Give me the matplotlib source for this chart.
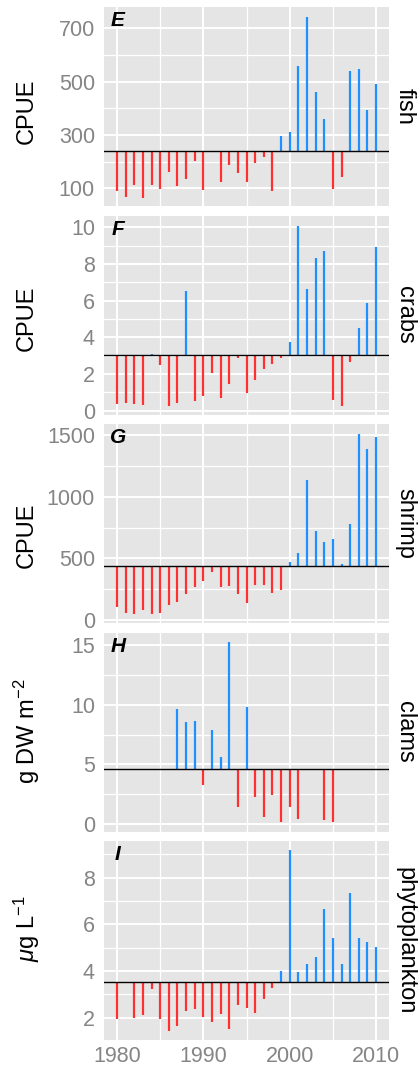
import numpy as np
import matplotlib
matplotlib.use('Agg')
import matplotlib.pyplot as plt

plt.rcParams['font.family'] = ['Liberation Sans', 'DejaVu Sans']
plt.rcParams['mathtext.fontset'] = 'custom'
plt.rcParams['mathtext.rm'] = 'Liberation Sans'
plt.rcParams['mathtext.it'] = 'Liberation Sans:italic'

nan = np.nan
years = list(range(1980, 2011))

# values
fish = [91, 69, 111, 65, 111, 96, 161, 110, 134, 202, 95, 236, 125, 189, 156, 124,
        194, 216, 91, 296, 311, 559, 741, 461, 360, 96, 144, 541, 549, 394, 491]
crabs = [0.36, 0.44, 0.35, 0.29, 3.09, 2.47, 0.27, 0.44, 6.55, 0.55, 0.80, 2.07, 0.67,
         1.44, 2.90, 0.98, 1.69, 2.29, 2.53, 2.85, 3.73, 10.09, 6.62, 8.31, 8.73, 0.58,
         0.27, 2.67, 4.53, 5.85, 8.95]
shrimp = [108, 59, 49, 78, 49, 59, 119, 143, 214, 270, 314, 392, 265, 273, 211, 135,
          286, 286, 219, 246, 470, 541, 1135, 724, 630, 657, 451, 776, 1508, 1384, 1481]
clams = [nan, nan, nan, nan, nan, nan, nan, 9.61, 8.52, 8.64, 3.31, 7.88, 5.60, 15.24,
         1.42, 9.80, 2.28, 0.64, 2.48, 0.22, 1.48, 0.42, nan, nan, 0.36, 0.17, nan, nan,
         nan, nan, nan]
phyto = [1.93, nan, 2.00, 2.10, 3.24, 1.93, 1.44, 1.66, 2.27, 2.37, 2.03, 1.83, 2.16,
         1.53, 2.54, 2.43, 2.21, 2.81, 3.29, 4.00, 9.19, 3.96, 4.29, 4.60, 6.64, 5.43,
         4.31, 7.34, 5.43, 5.23, 5.04]

series = [fish, crabs, shrimp, clams, phyto]
names = ['fish', 'crabs', 'shrimp', 'clams', 'phytoplankton']
letters = ['E', 'F', 'G', 'H', 'I']
baselines = [241, 3.02, 440, 4.6, 3.51]
ylabels = ['CPUE', 'CPUE', 'CPUE', 'g DW m$^{-2}$', r'$\mu$g L$^{-1}$']
ylims = [(34, 780), (-0.21, 10.65), (-24, 1589), (-0.6, 16.03), (1.04, 9.57)]
major_y = [[100, 300, 500, 700], [0, 2, 4, 6, 8, 10], [0, 500, 1000, 1500],
           [0, 5, 10, 15], [2, 4, 6, 8]]
minor_y = [[200, 400, 600], [1, 3, 5, 7, 9], [250, 750, 1250], [2.5, 7.5, 12.5],
           [3, 5, 7, 9]]
major_x = [1980, 1990, 2000, 2010]
minor_x = [1985, 1995, 2005]

W, H = 418, 1069
fig = plt.figure(figsize=(W / 100, H / 100), dpi=100)

left, right = 104, 389
top0, ph, gap = 7, 199, 9.5
label_y = [111.5, 318.5, 535, 731.5, 928.5]
red, blue = '#FF3030', '#1E90FF'
tick_col = '#858585'

for i, vals in enumerate(series):
    top = top0 + i * (ph + gap)
    ax = fig.add_axes([left / W, 1 - (top + ph) / H, (right - left) / W, ph / H])
    ax.set_facecolor('#E5E5E5')
    for s in ax.spines.values():
        s.set_visible(False)
    ax.set_xlim(1978.5, 2011.5)
    ax.set_ylim(*ylims[i])

    ax.set_yticks(major_y[i])
    ax.set_yticks(minor_y[i], minor=True)
    ax.set_xticks(major_x)
    ax.set_xticks(minor_x, minor=True)
    ax.grid(which='major', color='white', lw=1.4)
    ax.grid(which='minor', color='white', lw=0.9)
    ax.set_axisbelow(True)
    ax.tick_params(which='both', length=0, labelsize=15.5, labelcolor=tick_col)
    ax.tick_params(axis='y', pad=6.5)
    ax.tick_params(axis='x', pad=4.5)
    if i < 4:
        ax.tick_params(axis='x', labelbottom=False)

    v = np.array(vals, dtype=float)
    x = np.array(years)
    ok = ~np.isnan(v)
    b = baselines[i]
    cols = [blue if val > b else red for val in v[ok]]
    ax.vlines(x[ok], b, v[ok], colors=cols, lw=1.6, zorder=2)
    ax.axhline(b, color='black', lw=1.0, zorder=3)

    ax.text(0.049, 0.93, letters[i], transform=ax.transAxes, fontsize=15,
            fontweight='bold', fontstyle='italic', ha='center', va='center')

    fig.text(26.5 / W, 1 - label_y[i] / H, ylabels[i], rotation=90, fontsize=17,
             ha='center', va='center')
    fig.text(405 / W, 1 - (top + ph / 2) / H, names[i], rotation=270, fontsize=17,
             ha='center', va='center')

fig.savefig('out.png', dpi=100)
